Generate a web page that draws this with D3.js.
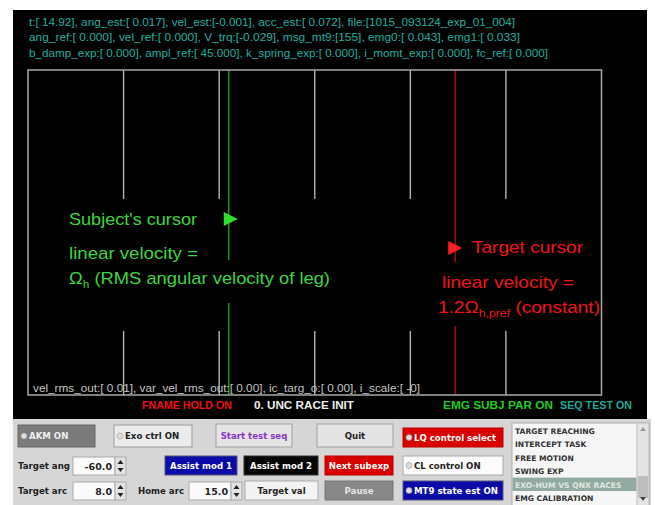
<!DOCTYPE html>
<html>
<head>
<meta charset="utf-8">
<script src="https://cdn.jsdelivr.net/npm/d3@7"></script>
<style>
  body { margin: 0; background: #fff; }
  svg { display: block; }
</style>
</head>
<body>
<div id="chart"></div>
<script>
// header readouts (cyan)
var infoLines = [
  "t:[ 14.92], ang_est:[ 0.017], vel_est:[-0.001], acc_est:[ 0.072], file:[1015_093124_exp_01_004]",
  "ang_ref:[ 0.000], vel_ref:[ 0.000], V_trq:[-0.029], msg_mt9:[155], emg0:[ 0.043], emg1:[ 0.033]",
  "b_damp_exp:[ 0.000], ampl_ref:[ 45.000], k_spring_exp:[ 0.000], i_momt_exp:[ 0.000], fc_ref:[ 0.000]"
];
var infoWidths = [486, 491, 519];
var footLine = "vel_rms_out:[ 0.01], var_vel_rms_out:[ 0.00], ic_targ_o:[ 0.00], i_scale:[ -0]";

// track: 6 divisions, cursors in track units
var gridTicks = [0, 1, 2, 3, 4, 5, 6];
var subjectPos = 2.1;
var targetPos = 4.47;

var statusLabels = ["FNAME HOLD ON", "0. UNC RACE INIT", "EMG SUBJ PAR ON", "SEQ TEST ON"];
var statusColors = ["#ee1111", "#eeeeee", "#22cc22", "#1fa89a"];
var statusStart = [142, 254, 443, 560];
var statusWidths = [90, 100, 110, 72];

var buttonLabels = ["AKM ON", "Exo ctrl ON", "Start test seq", "Quit", "LQ control select",
  "Assist mod 1", "Assist mod 2", "Next subexp", "CL control ON",
  "Target val", "Pause", "MT9 state est ON"];
var spinLabels = ["Target ang", "Target arc", "Home arc"];
var spinValues = ["-60.0", "8.0", "15.0"];
var listItems = ["TARGET REACHING", "INTERCEPT TASK", "FREE MOTION", "SWING EXP",
  "EXO-HUM VS QNX RACES", "EMG CALIBRATION"];
var selectedItem = 4;

var W = 655, H = 505;
var svg = d3.select("#chart").append("svg").attr("width", W).attr("height", H);

//---------------------------------------------------------------------
// black display
svg.append("rect").attr("x", 13).attr("y", 10).attr("width", 634).attr("height", 409).attr("fill", "#000");

var x = d3.scaleLinear().domain([0, 6]).range([28, 601.5]);
var trackTop = 70, trackBottom = 395;

var mono = "'Liberation Sans', Arial, sans-serif";

svg.selectAll("text.info").data(infoLines).enter().append("text")
  .attr("class", "info")
  .attr("x", 29).attr("y", function(d, i){ return 25.5 + i*15.8; })
  .attr("textLength", function(d, i){ return infoWidths[i]; })
  .attr("lengthAdjust", "spacingAndGlyphs")
  .attr("font-family", mono).attr("font-size", 10.5)
  .attr("fill", "#1fb0a0").text(function(d){ return d; });

// inner ticks (short segments top and bottom)
var inner = gridTicks.slice(1, -1);
svg.selectAll("line.gtop").data(inner).enter().append("line")
  .attr("x1", x).attr("x2", x).attr("y1", trackTop).attr("y2", 199)
  .attr("stroke", "#b4b4b4").attr("stroke-width", 1.4);
svg.selectAll("line.gbot").data(inner).enter().append("line")
  .attr("x1", x).attr("x2", x).attr("y1", 331).attr("y2", trackBottom)
  .attr("stroke", "#b4b4b4").attr("stroke-width", 1.4);

// cursor lines
svg.append("line").attr("x1", x(subjectPos)).attr("x2", x(subjectPos)).attr("y1", trackTop).attr("y2", trackBottom)
  .attr("stroke", "#1a8c1a").attr("stroke-width", 1.6);
svg.append("line").attr("x1", x(targetPos)).attr("x2", x(targetPos)).attr("y1", trackTop).attr("y2", trackBottom)
  .attr("stroke", "#9a0b0b").attr("stroke-width", 1.6);

// track frame
svg.append("rect").attr("x", x(0)).attr("y", trackTop).attr("width", x(6) - x(0)).attr("height", trackBottom - trackTop)
  .attr("fill", "none").attr("stroke", "#a8a8a8").attr("stroke-width", 1.5);

// label backgrounds hiding the cursor lines
svg.append("rect").attr("x", 66).attr("y", 260).attr("width", 270).attr("height", 43).attr("fill", "#000");
svg.append("rect").attr("x", 436).attr("y", 262).attr("width", 164).attr("height", 64).attr("fill", "#000");

// cursors
var tri = function(cx, cy, col){
  svg.append("path")
    .attr("d", "M" + (cx - 6) + "," + (cy - 7) + "L" + (cx + 8) + "," + cy + "L" + (cx - 6) + "," + (cy + 7) + "Z")
    .attr("fill", col);
};
tri(x(subjectPos) + 1, 219, "#2ee02e");
tri(x(targetPos) - 1, 248, "#ff2020");

var big = "'Liberation Sans', Arial, sans-serif";
var green = "#3ed63e", red = "#f01515";

var label = function(tx, ty, txt, col, len){
  return svg.append("text").attr("x", tx).attr("y", ty)
    .attr("font-family", big).attr("font-size", 17).attr("fill", col)
    .attr("textLength", len).attr("lengthAdjust", "spacingAndGlyphs").text(txt);
};
label(69, 225, "Subject's cursor", green, 128);
label(69, 259, "linear velocity =", green, 129);
var om1 = svg.append("text").attr("x", 69).attr("y", 284)
  .attr("font-family", big).attr("font-size", 17).attr("fill", green)
  .attr("textLength", 261).attr("lengthAdjust", "spacingAndGlyphs");
om1.append("tspan").text("\u03A9");
om1.append("tspan").attr("font-size", 11).attr("dy", 4).text("h");
om1.append("tspan").attr("dy", -4).text(" (RMS angular velocity of leg)");

label(472, 253, "Target cursor", red, 111);
label(442, 288, "linear velocity =", red, 132);
var om2 = svg.append("text").attr("x", 438).attr("y", 313)
  .attr("font-family", big).attr("font-size", 17).attr("fill", red)
  .attr("textLength", 162).attr("lengthAdjust", "spacingAndGlyphs");
om2.append("tspan").text("1.2\u03A9");
om2.append("tspan").attr("font-size", 11).attr("dy", 4).text("h,pref");
om2.append("tspan").attr("dy", -4).text(" (constant)");

// footer readout inside track
svg.append("text").attr("x", 33).attr("y", 392)
  .attr("font-family", mono).attr("font-size", 10.5).attr("fill", "#c4c4c4")
  .attr("textLength", 387).attr("lengthAdjust", "spacingAndGlyphs").text(footLine);

// status line
svg.selectAll("text.status").data(statusLabels).enter().append("text")
  .attr("x", function(d, i){ return statusStart[i]; }).attr("y", 409)
  .attr("font-family", big).attr("font-size", 11.5).attr("font-weight", "bold")
  .attr("textLength", function(d, i){ return statusWidths[i]; })
  .attr("lengthAdjust", "spacingAndGlyphs")
  .attr("fill", function(d, i){ return statusColors[i]; }).text(function(d){ return d; });

//---------------------------------------------------------------------
// control panel
svg.append("rect").attr("x", 13).attr("y", 419).attr("width", 638).attr("height", 86).attr("fill", "#d6d6d6");

var ui = "'DejaVu Sans', sans-serif";
// [x, y, w, h, fill, text colour, radio, border]
var btnStyle = [
  [18, 425, 77, 22, "#7b7b7b", "#eeeeee", true, "#666"],
  [114, 425, 78, 22, "#ebebeb", "#222", true, "#9a9a9a"],
  [216, 424, 76, 23, "#e4e4e4", "#8a34c6", false, "#a0a0a0"],
  [317, 424, 76, 23, "#e4e4e4", "#222", false, "#a0a0a0"],
  [403, 428, 100, 19, "#d90000", "#fff", true, "#b00"],
  [165, 456, 72, 19, "#0b0baa", "#fff", false, "#557"],
  [244, 456, 74, 19, "#060606", "#fff", false, "#333"],
  [325, 456, 68, 19, "#d90000", "#fff", false, "#b00"],
  [403, 456, 100, 19, "#fbfbfb", "#222", true, "#aaa"],
  [245, 481, 73, 19, "#f3f3f3", "#222", false, "#aaa"],
  [325, 481, 68, 19, "#888", "#e4e4e4", false, "#777"],
  [403, 481, 100, 19, "#0b0baa", "#fff", true, "#557"]
];

var btn = svg.selectAll("g.btn").data(buttonLabels).enter().append("g")
  .attr("transform", function(d, i){ return "translate(" + btnStyle[i][0] + "," + btnStyle[i][1] + ")"; });
btn.append("rect")
  .attr("width", function(d, i){ return btnStyle[i][2]; })
  .attr("height", function(d, i){ return btnStyle[i][3]; })
  .attr("fill", function(d, i){ return btnStyle[i][4]; })
  .attr("stroke", function(d, i){ return btnStyle[i][7]; });
btn.filter(function(d, i){ return btnStyle[buttonLabels.indexOf(d)][6]; })
  .append("circle")
  .attr("cx", 6).attr("cy", function(d){ return btnStyle[buttonLabels.indexOf(d)][3] / 2; })
  .attr("r", 3).attr("fill", "#ddd").attr("stroke", "#999").attr("stroke-width", 0.6);
btn.append("text")
  .attr("x", function(d, i){ var s = btnStyle[i]; return s[6] ? 11 : s[2] / 2; })
  .attr("y", function(d, i){ return btnStyle[i][3] / 2 + 3.3; })
  .attr("text-anchor", function(d, i){ return btnStyle[i][6] ? "start" : "middle"; })
  .attr("font-family", ui).attr("font-weight", "bold").attr("font-size", 8.6)
  .attr("fill", function(d, i){ return btnStyle[i][5]; }).text(function(d){ return d; });

// spin boxes: [label x, field x, y]
var spinPos = [[18, 73, 457], [18, 73, 482], [138, 189, 482]];
var spin = svg.selectAll("g.spin").data(spinLabels).enter().append("g");
spin.append("text")
  .attr("x", function(d, i){ return spinPos[i][0]; }).attr("y", function(d, i){ return spinPos[i][2] + 12; })
  .attr("font-family", ui).attr("font-weight", "bold").attr("font-size", 8.6).attr("fill", "#222")
  .text(function(d){ return d; });
spin.append("rect")
  .attr("x", function(d, i){ return spinPos[i][1]; }).attr("y", function(d, i){ return spinPos[i][2]; })
  .attr("width", 42).attr("height", 18).attr("fill", "#fafafa").attr("stroke", "#aaa");
spin.append("text")
  .attr("x", function(d, i){ return spinPos[i][1] + 39; }).attr("y", function(d, i){ return spinPos[i][2] + 13; })
  .attr("text-anchor", "end")
  .attr("font-family", ui).attr("font-weight", "bold").attr("font-size", 9.5).attr("fill", "#222")
  .text(function(d, i){ return spinValues[i]; });
spin.append("rect")
  .attr("x", function(d, i){ return spinPos[i][1] + 42; }).attr("y", function(d, i){ return spinPos[i][2]; })
  .attr("width", 11).attr("height", 18).attr("fill", "#e2e2e2").attr("stroke", "#aaa");
spin.append("path")
  .attr("d", function(d, i){
    var cx = spinPos[i][1] + 47.5, y0 = spinPos[i][2];
    return "M" + (cx - 3) + "," + (y0 + 7) + "L" + (cx + 3) + "," + (y0 + 7) + "L" + cx + "," + (y0 + 3) + "Z" +
           "M" + (cx - 3) + "," + (y0 + 11) + "L" + (cx + 3) + "," + (y0 + 11) + "L" + cx + "," + (y0 + 15) + "Z";
  })
  .attr("fill", "#222");

// experiment list
var rowH = 13.4, listY = 423;
svg.append("rect").attr("x", 512).attr("y", listY).attr("width", 137).attr("height", 84)
  .attr("fill", "#f6f6f6").attr("stroke", "#aaa");
svg.append("rect").attr("x", 512.5).attr("y", listY + 1 + selectedItem*rowH).attr("width", 124).attr("height", rowH)
  .attr("fill", "#93aaa0");
svg.selectAll("text.item").data(listItems).enter().append("text")
  .attr("x", 515).attr("y", function(d, i){ return listY + 11 + i*rowH; })
  .attr("font-family", ui).attr("font-weight", "bold").attr("font-size", 7.6)
  .attr("fill", function(d, i){ return i === selectedItem ? "#dfe8e4" : "#333"; })
  .text(function(d){ return d; });
// scrollbar
svg.append("rect").attr("x", 637).attr("y", listY).attr("width", 12).attr("height", 84)
  .attr("fill", "#e4e4e4").attr("stroke", "#bbb");
svg.append("rect").attr("x", 638).attr("y", listY + 53).attr("width", 10).attr("height", 22)
  .attr("fill", "#bdbdbd");
svg.append("path").attr("d", "M640," + (listY + 8) + "L646," + (listY + 8) + "L643," + (listY + 4) + "Z").attr("fill", "#999");
svg.append("path").attr("d", "M640,497L646,497L643,501Z").attr("fill", "#444");
</script>
</body>
</html>
